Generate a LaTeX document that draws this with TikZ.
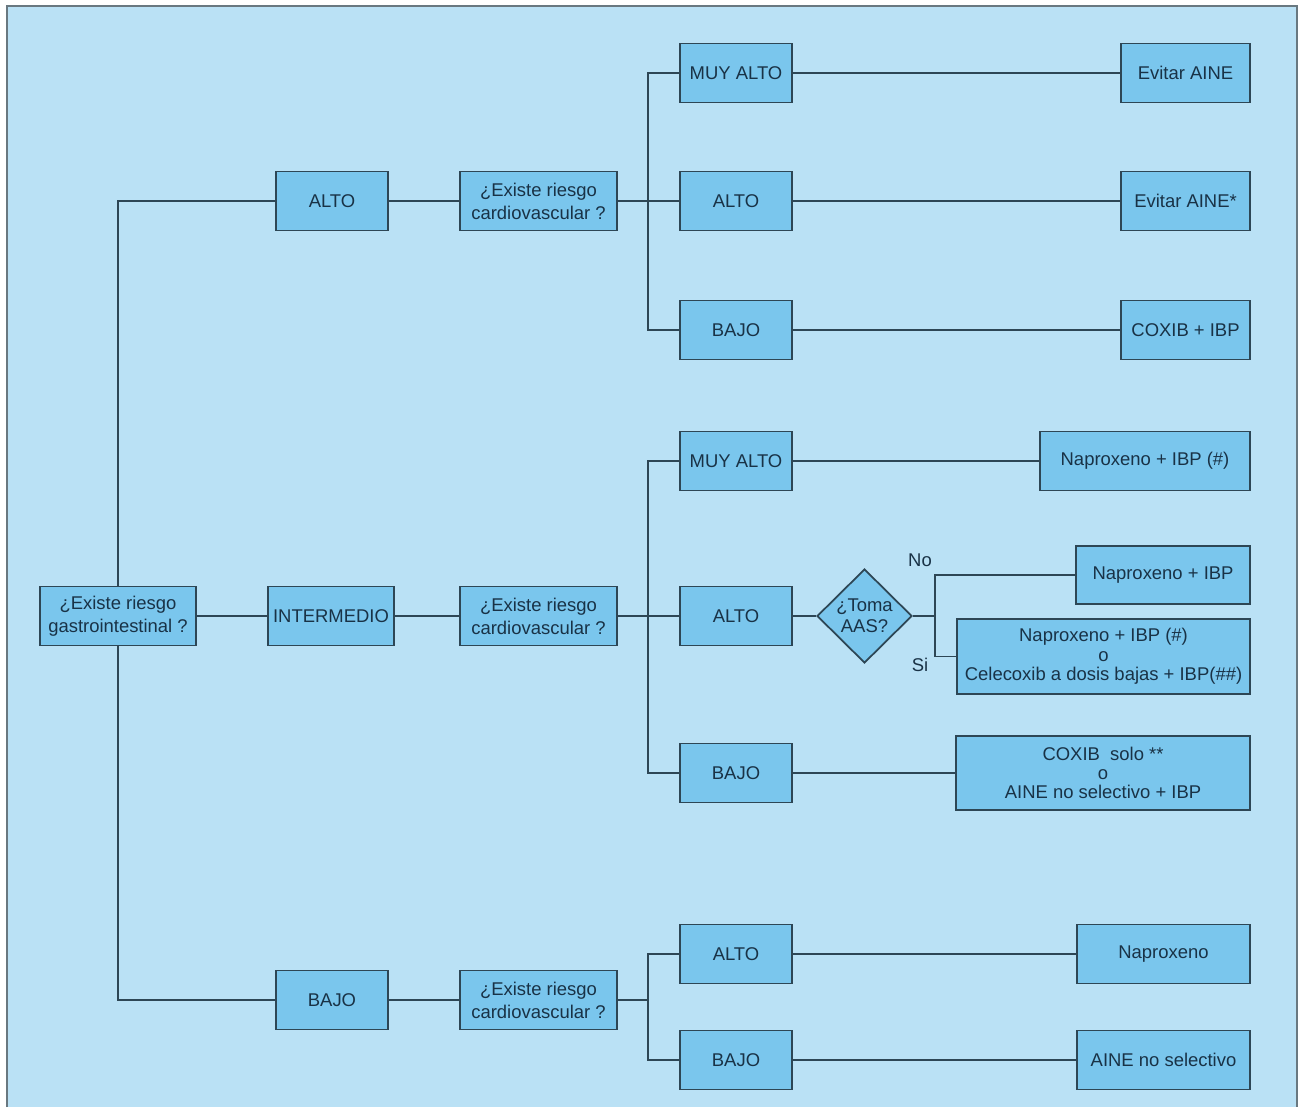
\documentclass[tikz,border=0pt]{standalone}
\usepackage{fontspec}
\setmainfont{Liberation Sans}
\usetikzlibrary{shapes.geometric}

\definecolor{fondo}{RGB}{186,225,245}
\definecolor{azulcaja}{RGB}{122,198,237}
\definecolor{borde}{RGB}{45,70,85}
\definecolor{letra}{RGB}{25,50,70}
\definecolor{marco}{RGB}{105,120,128}

\begin{document}
\begin{tikzpicture}[x=0.02cm, y=-0.02cm,
  caja/.style={draw=borde, line width=1pt, fill=azulcaja, text=letra, inner sep=0pt, align=center, minimum height=1.18cm, font=\fontsize{10.5}{13}\selectfont},
  rombo/.style={caja, diamond, minimum width=1.9cm, minimum height=1.88cm, font=\fontsize{10.5}{12}\selectfont},
  linea/.style={draw=borde, line width=1pt},
  etiqueta/.style={text=letra, font=\fontsize{10.5}{13}\selectfont}]

\useasboundingbox (0,0) rectangle (1300,1107);
\fill[fondo] (7,6) rectangle (1297,1107);
\draw[marco, line width=1.5pt] (7,1107) -- (7,6) -- (1297,6) -- (1297,1107);

% riesgo gastrointestinal
\node[caja, minimum width=3.12cm] (gi) at (118, 616) {¿Existe riesgo\\gastrointestinal ?};
\node[caja, minimum width=2.24cm] (alto) at (332, 201) {ALTO};
\node[caja, minimum width=2.52cm] (inter) at (331, 616) {INTERMEDIO};
\node[caja, minimum width=2.24cm] (bajo) at (332, 1000) {BAJO};

% riesgo cardiovascular
\node[caja, minimum width=3.14cm] (cva) at (538.5, 201) {¿Existe riesgo\\cardiovascular ?};
\node[caja, minimum width=3.14cm] (cvi) at (538.5, 616) {¿Existe riesgo\\cardiovascular ?};
\node[caja, minimum width=3.14cm] (cvb) at (538.5, 1000) {¿Existe riesgo\\cardiovascular ?};

\node[caja, minimum width=2.24cm] (ama) at (736, 73) {MUY ALTO};
\node[caja, minimum width=2.24cm] (aal) at (736, 201) {ALTO};
\node[caja, minimum width=2.24cm] (abj) at (736, 330) {BAJO};
\node[caja, minimum width=2.24cm] (ima) at (736, 461) {MUY ALTO};
\node[caja, minimum width=2.24cm] (ial) at (736, 616) {ALTO};
\node[caja, minimum width=2.24cm] (ibj) at (736, 773) {BAJO};
\node[caja, minimum width=2.24cm] (bal) at (736, 954) {ALTO};
\node[caja, minimum width=2.24cm] (bbj) at (736, 1060) {BAJO};

\node[rombo] (toma) at (864.5, 616) {¿Toma\\AAS?};
\node[etiqueta] (no) at (920, 560) {No};
\node[etiqueta] (si) at (920, 665) {Si};

% tratamiento
\node[caja, minimum width=2.58cm] (r1) at (1185.5, 73) {Evitar AINE};
\node[caja, minimum width=2.58cm] (r2) at (1185.5, 201) {Evitar AINE*};
\node[caja, minimum width=2.58cm] (r3) at (1185.5, 330) {COXIB + IBP};
\node[caja, minimum width=4.2cm] (r4) at (1145, 461) {Naproxeno + IBP (\#)};
\node[caja, minimum width=3.48cm, minimum height=1.16cm] (r5) at (1163, 575) {Naproxeno + IBP};
\node[caja, minimum width=5.86cm, minimum height=1.5cm, font=\fontsize{10.5}{11}\selectfont] (r6) at (1103.5, 656.5) {Naproxeno + IBP (\#)\\o\\Celecoxib a dosis bajas + IBP(\#\#)};
\node[caja, minimum width=5.88cm, minimum height=1.48cm, font=\fontsize{10.5}{11}\selectfont] (r7) at (1103, 773) {COXIB\ \ solo **\\o\\AINE no selectivo + IBP};
\node[caja, minimum width=3.46cm] (r8) at (1163.5, 954) {Naproxeno};
\node[caja, minimum width=3.46cm] (r9) at (1163.5, 1060) {AINE no selectivo};

\coordinate (ja) at (648, 201);
\coordinate (ji) at (648, 616);
\coordinate (jb) at (648, 1000);
\coordinate (jt) at (935, 616);

\draw[linea] (alto.west) -| (gi.north);
\draw[linea] (bajo.west) -| (gi.south);
\draw[linea] (gi) -- (inter);
\draw[linea] (alto) -- (cva);
\draw[linea] (inter) -- (cvi);
\draw[linea] (bajo) -- (cvb);

\draw[linea] (cva) -- (aal);
\draw[linea] (ama.west) -| (ja) |- (abj.west);
\draw[linea] (cvi) -- (ial);
\draw[linea] (ima.west) -| (ji) |- (ibj.west);
\draw[linea] (cvb) -- (jb);
\draw[linea] (bal.west) -| (jb) |- (bbj.west);

\draw[linea] (ama) -- (r1);
\draw[linea] (aal) -- (r2);
\draw[linea] (abj) -- (r3);
\draw[linea] (ima) -- (r4);
\draw[linea] (ial) -- (toma);
\draw[linea] (toma) -- (jt);
\draw[linea] (r5.west) -| (jt) |- (r6.west);
\draw[linea] (ibj) -- (r7);
\draw[linea] (bal) -- (r8);
\draw[linea] (bbj) -- (r9);

\end{tikzpicture}
\end{document}
